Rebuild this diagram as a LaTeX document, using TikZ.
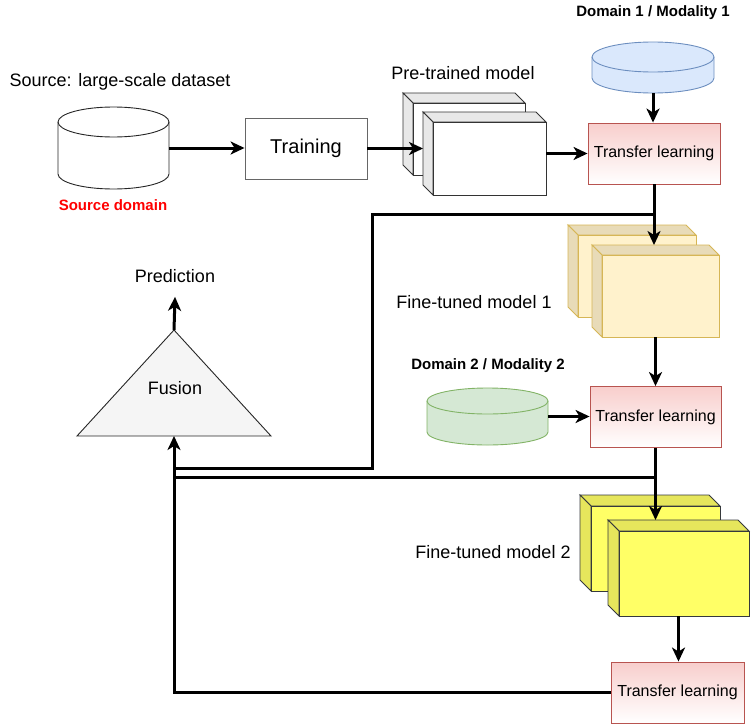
\documentclass[tikz,border=0pt]{standalone}
\usepackage{fontspec}
\setmainfont{Liberation Sans}
\usepackage{tikz}
\usetikzlibrary{arrows.meta, positioning, calc}
\definecolor{tlred}{RGB}{248,206,204}
\definecolor{tlstroke}{RGB}{184,84,80}
\definecolor{dblue}{RGB}{218,232,252}
\definecolor{dbluestroke}{RGB}{108,142,191}
\definecolor{dgreen}{RGB}{213,232,212}
\definecolor{dgreenstroke}{RGB}{130,179,102}
\definecolor{tanfill}{RGB}{255,242,204}
\definecolor{tanside}{RGB}{232,219,184}
\definecolor{tanstroke}{RGB}{214,182,86}
\definecolor{yelfill}{RGB}{255,255,102}
\definecolor{yelside}{RGB}{230,230,92}
\definecolor{yelstroke}{RGB}{54,57,61}
\definecolor{srcred}{RGB}{255,0,0}
\tikzset{
  graycube/.style={draw=black!80, fill=white, line width=0.9pt},
  graycubeside/.style={draw=black!80, fill=black!9, line width=0.9pt},
  tancube/.style={draw=tanstroke, fill=tanfill, line width=0.9pt},
  tancubeside/.style={draw=tanstroke, fill=tanside, line width=0.9pt},
  yelcube/.style={draw=yelstroke, fill=yelfill, line width=0.9pt},
  yelcubeside/.style={draw=yelstroke, fill=yelside, line width=0.9pt},
  srccyl/.style={draw=black!85, fill=white, line width=0.9pt},
  bluecyl/.style={draw=dbluestroke, fill=dblue, line width=0.9pt},
  greencyl/.style={draw=dgreenstroke, fill=dgreen, line width=0.9pt},
}
% model block: name, x1, y1, x2, y2, depth, style
\newcommand{\modelcube}[7]{%
  \node[inner sep=0, outer sep=0, anchor=north west,
        minimum width={(#4-#2)*1pt}, minimum height={(#5-#3)*1pt}] (#1) at (#2,#3) {};
  \filldraw[#7side] (#2,#3) -- (#4-#6,#3) -- (#4,#3+#6) -- (#2+#6,#3+#6) -- cycle;
  \filldraw[#7side] (#2,#3) -- (#2+#6,#3+#6) -- (#2+#6,#5) -- (#2,#5-#6) -- cycle;
  \filldraw[#7] (#2+#6,#3+#6) rectangle (#4,#5);
}
% data cylinder: name, x1, y1, x2, y2, y radius, style
\newcommand{\dbcyl}[7]{%
  \node[inner sep=0, outer sep=0, anchor=north west,
        minimum width={(#4-#2)*1pt}, minimum height={(#5-#3)*1pt}] (#1) at (#2,#3) {};
  \filldraw[#7] (#2,#3+#6) -- (#2,#5-#6)
    arc[start angle=180, end angle=360, x radius={(#4-#2)/2*1pt}, y radius=#6pt]
    -- (#4,#3+#6)
    arc[start angle=0, end angle=180, x radius={(#4-#2)/2*1pt}, y radius=#6pt] -- cycle;
  \draw[#7, fill=none] (#2,#3+#6)
    arc[start angle=180, end angle=360, x radius={(#4-#2)/2*1pt}, y radius=#6pt];
}

\begin{document}
\begin{tikzpicture}[
  x=1pt, y=-1pt,
  lbl/.style={font=\fontsize{18}{22}\selectfont, inner sep=0},
  domlbl/.style={font=\fontsize{15}{18}\selectfont\bfseries, inner sep=0},
  trainbox/.style={
    rectangle, draw=black!60, fill=white, line width=0.9pt,
    minimum width=122pt, minimum height=61pt, inner sep=0,
    font=\fontsize{20}{24}\selectfont
  },
  tlbox/.style={
    rectangle, draw=tlstroke, top color=tlred, bottom color=white, line width=0.9pt,
    minimum width=132pt, minimum height=61pt, inner sep=0,
    font=\fontsize{16}{19}\selectfont
  },
  fusion/.style={draw=black!85, fill=black!4, line width=0.9pt},
  arrow/.style={-{Stealth[length=14pt,width=13pt,inset=4pt]}, line width=3pt},
  line/.style={line width=3pt}
]
\useasboundingbox (0,0) rectangle (751,725);

% ---- Source side ----
\node[lbl] (srctitle) at (120,82) {Source: large-scale dataset};
\dbcyl{src}{58}{107}{169}{189}{15}{srccyl}
\node[domlbl, text=srcred] (srcname) at (113,205) {Source domain};
\node[trainbox] (train) at (306,148.5) {Training};

% ---- Pre-trained model ----
\node[lbl] (pmtitle) at (463,73) {Pre-trained model};
\modelcube{pmback}{403}{93}{525}{175}{10}{graycube}
\modelcube{pm}{423}{112}{546}{195}{10}{graycube}

% ---- Domain 1 ----
\node[domlbl] (d1title) at (653,13) {Domain 1 / Modality 1};
\dbcyl{d1}{592}{42}{714}{93}{15}{bluecyl}
\node[tlbox] (tl1) at (654,153.5) {Transfer learning};

% ---- Fine-tuned model 1 ----
\node[lbl] (ft1title) at (474,302) {Fine-tuned model 1};
\modelcube{ft1back}{568}{225}{696}{317}{10}{tancube}
\modelcube{ft1}{592}{245}{719}{337}{10}{tancube}

% ---- Domain 2 ----
\node[domlbl] (d2title) at (488,366) {Domain 2 / Modality 2};
\dbcyl{d2}{427}{388}{548}{445}{13}{greencyl}
\node[tlbox, minimum width=131pt] (tl2) at (655.5,417) {Transfer learning};

% ---- Fine-tuned model 2 ----
\node[lbl] (ft2title) at (493,552) {Fine-tuned model 2};
\modelcube{ft2back}{580}{495}{720}{591}{11}{yelcube}
\modelcube{ft2}{608}{520}{749}{616}{11}{yelcube}
\node[tlbox, minimum width=133pt] (tl3) at (677.5,692.5) {Transfer learning};

% ---- Fusion ----
\coordinate (fusTop) at (174,330);
\coordinate (fusBot) at (174,436);
\filldraw[fusion] (77,436) -- (fusTop) -- (271,436) -- cycle;
\node[lbl] (fus) at (175,388) {Fusion};
\node[lbl] (pred) at (175,276) {Prediction};

% ---- Main chain ----
\draw[arrow] (src.east) -- (src.east -| train.west);
\draw[arrow] (train.east) -- (train.east -| pm.west);
\draw[arrow] (pm.east) -- (pm.east -| tl1.west);
\draw[arrow] (d1.south) -- (d1.south |- tl1.north);
\draw[arrow] (tl1.south) -- (tl1.south |- ft1.north);
\draw[arrow] (ft1.south) -- (ft1.south |- tl2.north);
\draw[arrow] (d2.east) -- (d2.east -| tl2.west);
\draw[arrow] (tl2.south) -- (tl2.south |- ft2.north);
\draw[arrow] (ft2.south) -- (ft2.south |- tl3.north);

% ---- Branches into fusion ----
\coordinate (j1) at ($(tl1.south)+(0,30)$);
\coordinate (bend1) at (372,468);
\coordinate (j2) at ($(tl2.south)+(0,30)$);
\draw[line] (j1) -| (bend1) -- (bend1 -| fusBot);
\draw[line] (j2) -- (j2 -| fusBot);
\draw[arrow] (tl3.west) -| (fusBot);
\draw[arrow] (fusTop) -- ($(pred.south)+(0,14)$);

\end{tikzpicture}
\end{document}
